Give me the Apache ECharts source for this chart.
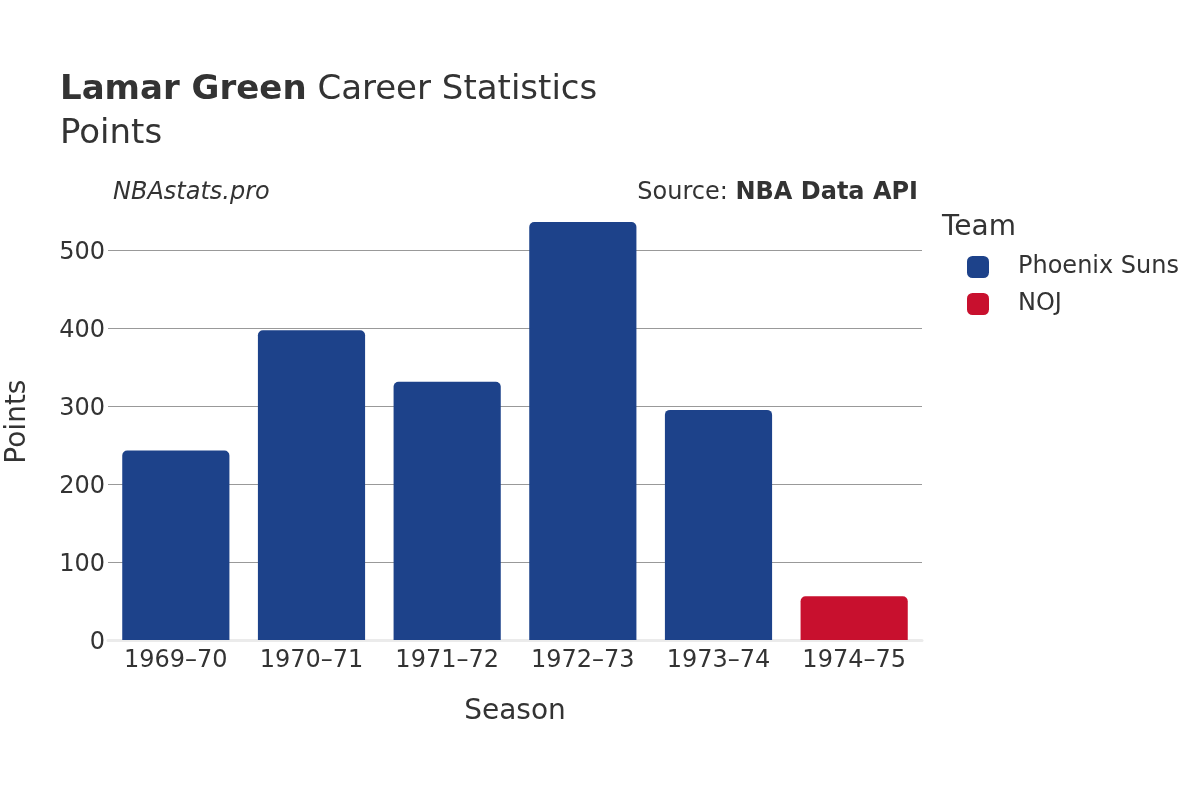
<!DOCTYPE html>
<html>
<head>
<meta charset="utf-8">
<script src="https://cdn.jsdelivr.net/npm/echarts@6/dist/echarts.min.js"></script>
<style>html,body{margin:0;padding:0;background:#fff;}#c{width:1200px;height:800px;}</style>
</head>
<body>
<div id="c"></div>
<script>
const seasons = ['1969–70','1970–71','1971–72','1972–73','1973–74','1974–75'];
const sunsPoints = [243, 397, 331, 536, 295, null];
const nojPoints = [null, null, null, null, null, 56];
const yTicks = [0, 100, 200, 300, 400, 500];

const FONT = 'DejaVu Sans';
const chart = echarts.init(document.getElementById('c'));
chart.setOption({
  backgroundColor: '#fff',
  textStyle: { fontFamily: FONT },
  title: [
    {
      text: '{b|Lamar Green} Career Statistics\nPoints',
      left: 55, top: 63,
      textStyle: {
        fontFamily: FONT, fontSize: 34, color: '#333', fontWeight: 'normal', lineHeight: 44,
        rich: { b: { fontFamily: FONT, fontSize: 34, fontWeight: 'bold', color: '#333', lineHeight: 44 } }
      }
    },
    {
      text: 'NBAstats.pro', left: 108, top: 176,
      textStyle: { fontFamily: FONT, fontSize: 24, fontStyle: 'italic', fontWeight: 'normal', color: '#333' }
    },
    {
      text: 'Source: {b|NBA Data API}', right: 277, top: 176,
      textStyle: { fontFamily: FONT, fontSize: 24, fontWeight: 'normal', color: '#333',
        rich: { b: { fontFamily: FONT, fontSize: 24, fontWeight: 'bold', color: '#333' } } }
    },
    {
      text: 'Team', left: 937, top: 209,
      textStyle: { fontFamily: FONT, fontSize: 28, fontWeight: 'normal', color: '#333' }
    }
  ],
  legend: {
    orient: 'vertical', left: 962, top: 250, itemGap: 13,
    itemWidth: 22, itemHeight: 22,
    icon: 'roundRect',
    textStyle: { fontFamily: FONT, fontSize: 24, color: '#333', padding: [0, 0, 0, 24] },
    data: ['Phoenix Suns', 'NOJ']
  },
  grid: { left: 108, right: 278, top: 640 - 560 * 0.78, bottom: 160, outerBoundsMode: 'none', containLabel: false },
  xAxis: {
    type: 'category', data: seasons,
    name: 'Season', nameLocation: 'middle', nameGap: 58,
    nameTextStyle: { fontFamily: FONT, fontSize: 28, color: '#333' },
    axisLine: { show: true, lineStyle: { color: '#ebebeb', width: 3 } },
    axisTick: { show: false },
    axisLabel: { fontFamily: FONT, fontSize: 24, color: '#333', margin: 9, interval: 0 }
  },
  yAxis: {
    type: 'value', min: 0, max: 560, interval: 100,
    name: 'Points', nameLocation: 'middle', nameGap: 76,
    nameTextStyle: { fontFamily: FONT, fontSize: 28, color: '#333' },
    axisLine: { show: false }, axisTick: { show: false },
    axisLabel: { fontFamily: FONT, fontSize: 24, color: '#333', margin: 3, showMaxLabel: false,
      verticalAlign: 'top', lineHeight: 6,
      formatter: v => (yTicks.indexOf(v) >= 0 ? String(v) : '') },
    splitLine: { lineStyle: { color: ['#ebebeb', '#999', '#999', '#999', '#999', '#999', 'rgba(0,0,0,0)'], width: 1 } }
  },
  series: [
    {
      name: 'Phoenix Suns', type: 'bar', stack: 'a', data: sunsPoints,
      barCategoryGap: '21%',
      itemStyle: { color: '#1d428a', borderRadius: [5, 5, 0, 0] }
    },
    {
      name: 'NOJ', type: 'bar', stack: 'a', data: nojPoints,
      itemStyle: { color: '#c8102e', borderRadius: [5, 5, 0, 0] }
    }
  ]
});
</script>
</body>
</html>
